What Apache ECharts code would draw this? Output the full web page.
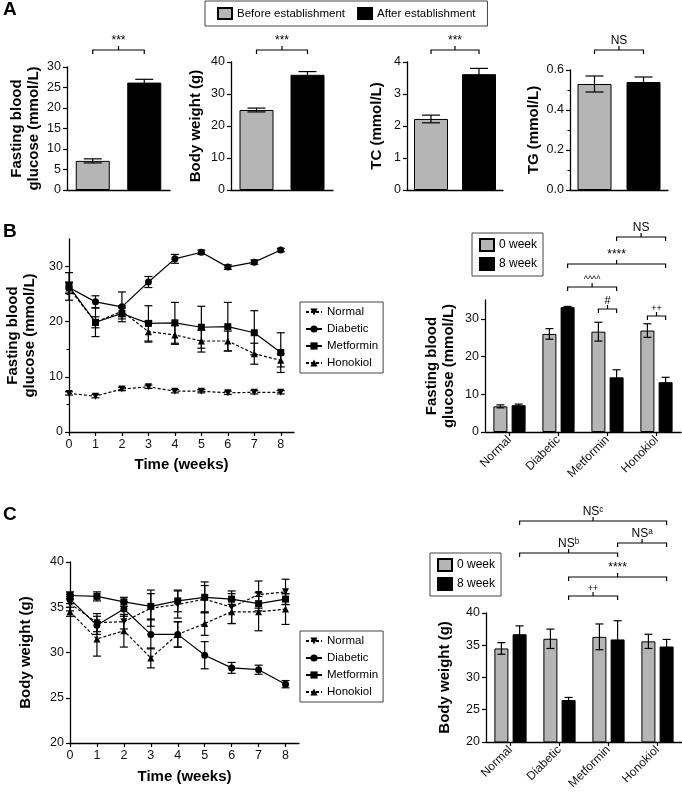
<!DOCTYPE html>
<html><head><meta charset="utf-8">
<script src="https://cdn.jsdelivr.net/npm/echarts@6/dist/echarts.min.js"></script>
<style>html,body{margin:0;padding:0;background:#fff}#c{width:682px;height:792px}</style>
</head><body><div id="c"></div>
<script>
// ================= DATA =================
// Panel A
const groupsA = ['Before establishment', 'After establishment'];
const fbgA = [7.1, 26.2];   const fbgAErr = [0.5, 0.8];
const bwA  = [25.0, 36.0];  const bwAErr  = [0.6, 1.0];
const tcA  = [2.22, 3.62];  const tcAErr  = [0.12, 0.18];
const tgA  = [0.53, 0.54];  const tgAErr  = [0.04, 0.025];
const sigA = ['***', '***', '***', 'NS'];
const yTicksA1 = [0, 5, 10, 15, 20, 25, 30];
const yTicksA2 = [0, 10, 20, 30, 40];
const yTicksA3 = [0, 1, 2, 3, 4];
const yTicksA4 = [0.0, 0.2, 0.4, 0.6];
const yMinorA4 = [0.1, 0.3, 0.5];

// Panel B / C time courses
const weeks = [0, 1, 2, 3, 4, 5, 6, 7, 8];
const lineGroups = ['Normal', 'Diabetic', 'Metformin', 'Honokiol'];

const fbgNormal    = [7.0, 6.5, 7.8, 8.2, 7.4, 7.4, 7.1, 7.2, 7.2];
const fbgNormalErr = [0.3, 0.3, 0.3, 0.3, 0.3, 0.3, 0.3, 0.3, 0.3];
const fbgDiab      = [26.2, 23.6, 22.7, 27.2, 31.4, 32.6, 29.9, 30.8, 33.0];
const fbgDiabErr   = [1.0, 1.1, 2.7, 1.0, 0.8, 0.4, 0.4, 0.4, 0.3];
const fbgMet       = [26.4, 19.9, 21.5, 19.7, 19.8, 19.0, 19.1, 18.0, 14.4];
const fbgMetErr    = [2.5, 2.6, 1.0, 3.2, 3.7, 3.8, 4.4, 4.0, 3.6];
const fbgHon       = [26.1, 19.9, 21.9, 18.2, 17.6, 16.5, 16.5, 14.2, 13.0];
const fbgHonErr    = [1.0, 1.0, 1.0, 1.9, 1.7, 2.0, 1.8, 1.9, 1.2];

const bwNormal    = [35.4, 33.3, 33.4, 34.9, 35.3, 35.9, 35.0, 36.4, 36.7];
const bwNormalErr = [0.8, 1.0, 0.8, 2.0, 1.5, 1.5, 1.8, 1.5, 1.4];
const bwDiab      = [35.9, 33.0, 34.8, 32.0, 32.0, 29.7, 28.3, 28.1, 26.5];
const bwDiabErr   = [0.5, 1.0, 0.8, 1.6, 1.4, 1.5, 0.6, 0.5, 0.4];
const bwMet       = [36.3, 36.2, 35.6, 35.1, 35.7, 36.1, 35.9, 35.4, 35.9];
const bwMetErr    = [0.4, 0.5, 0.5, 1.4, 1.2, 1.7, 0.6, 0.8, 0.6];
const bwHon       = [34.5, 31.5, 32.4, 29.4, 32.0, 33.2, 34.5, 34.5, 34.8];
const bwHonErr    = [0.5, 1.9, 1.8, 1.1, 1.4, 1.3, 1.3, 2.1, 1.7];

const yTicksBLine = [0, 10, 20, 30];
const yMinorBLine = [5, 15, 25];
const yTicksC = [20, 25, 30, 35, 40];

// Panel B / C bar summaries
const timePoints = ['0 week', '8 week'];
const fbgWeek0    = [6.8, 26.0, 26.6, 26.9];
const fbgWeek0Err = [0.4, 1.4, 2.5, 1.8];
const fbgWeek8    = [7.1, 33.1, 14.5, 13.2];
const fbgWeek8Err = [0.3, 0.2, 2.0, 1.3];
const bwWeek0     = [34.5, 36.0, 36.3, 35.6];
const bwWeek0Err  = [0.9, 1.5, 2.0, 1.1];
const bwWeek8     = [36.7, 26.5, 35.9, 34.8];
const bwWeek8Err  = [1.3, 0.4, 2.9, 1.1];
const yTicksBBar = [0, 10, 20, 30];

// significance annotations: [fromGroup, fromBar, toGroup, toBar, label]
const sigBBar = [[2,1,3,1,'NS'], [1,1,3,1,'****'], [1,1,2,1,'^^^^'], [2,0,2,1,'#'], [3,0,3,1,'++']];
const sigCBar = [[0,1,3,1,'NSᶜ'], [2,1,3,1,'NSᵃ'], [0,1,2,1,'NSᵇ'], [1,1,3,1,'****'], [1,1,2,1,'++']];

// ================= STYLE / LAYOUT =================
const FONT = 'Liberation Sans, Arial, Helvetica, sans-serif';
const GRAY = '#b5b5b5';
const AX = {lineStyle: {color: '#000', width: 1.3}};
const chart = echarts.init(document.getElementById('c'), null, {renderer: 'canvas'});

function errRender(offsetPx, capHalf) {
  return function (params, api) {
    const x = api.value(0), y = api.value(1), e = api.value(2);
    const top = api.coord([x, y + e]), bot = api.coord([x, y - e]);
    const cx = top[0] + offsetPx;
    const st = {stroke: '#000', lineWidth: 1.2};
    return {type: 'group', children: [
      {type: 'line', shape: {x1: cx, y1: top[1], x2: cx, y2: bot[1]}, style: st},
      {type: 'line', shape: {x1: cx - capHalf, y1: top[1], x2: cx + capHalf, y2: top[1]}, style: st},
      {type: 'line', shape: {x1: cx - capHalf, y1: bot[1], x2: cx + capHalf, y2: bot[1]}, style: st}
    ]};
  };
}

function yAxisDef(grid, ticks, max, name, gap, fmt) {
  return {
    type: 'value', gridIndex: grid, min: ticks[0], max: max, position: 'left',
    axisLine: Object.assign({show: true}, AX),
    axisTick: {show: true, length: 4, lineStyle: {color: '#000', width: 1.2}, customValues: ticks},
    axisLabel: {customValues: ticks, fontSize: 12.5, color: '#111', fontFamily: FONT, margin: 6,
      formatter: fmt || (v => String(v))},
    splitLine: {show: false},
    name: name, nameLocation: 'middle', nameGap: gap,
    nameTextStyle: {fontSize: 15, fontWeight: 'bold', color: '#000', fontFamily: FONT, lineHeight: 17}
  };
}
function minorAxis(grid, ticks, min, max) {
  return {type: 'value', gridIndex: grid, min: min, max: max, position: 'left', offset: 0,
    axisLine: {show: false}, axisLabel: {show: false}, splitLine: {show: false},
    axisTick: {show: true, length: 2.5, lineStyle: {color: '#000', width: 1.1}, customValues: ticks}};
}
function catAxisA(grid) {
  return {type: 'category', gridIndex: grid, data: groupsA,
    axisLine: Object.assign({show: true, onZero: false}, AX), axisTick: {show: false}, axisLabel: {show: false}};
}
function weekAxis(grid, gap) {
  return {type: 'value', gridIndex: grid, min: 0, max: 8.5,
    axisLine: Object.assign({show: true, onZero: false}, AX),
    axisTick: {show: true, length: 4, lineStyle: {color: '#000', width: 1.2}, customValues: weeks},
    axisLabel: {customValues: weeks, fontSize: 12.5, color: '#111', fontFamily: FONT, margin: 6},
    splitLine: {show: false},
    name: 'Time (weeks)', nameLocation: 'middle', nameGap: gap,
    nameTextStyle: {fontSize: 15, fontWeight: 'bold', color: '#000', fontFamily: FONT}};
}
function groupAxis(grid) {
  return {type: 'category', gridIndex: grid, data: lineGroups,
    axisLine: Object.assign({show: true, onZero: false}, AX),
    axisTick: {show: true, alignWithLabel: true, length: 4, lineStyle: {color: '#000', width: 1.2}},
    axisLabel: {rotate: 45, interval: 0, fontSize: 12, color: '#111', fontFamily: FONT, margin: 6}};
}

const grids = [
  {left: 67, top: 67, width: 103, height: 123},   // A1
  {left: 231, top: 62, width: 102, height: 128},  // A2
  {left: 407, top: 62, width: 96, height: 128},   // A3
  {left: 570, top: 70, width: 98, height: 120},   // A4
  {left: 69, top: 239, width: 225, height: 193},  // B line
  {left: 485, top: 300, width: 196, height: 132}, // B bar
  {left: 70, top: 562, width: 229, height: 181},  // C line
  {left: 486, top: 613, width: 196, height: 130}  // C bar
];

const xAxes = [catAxisA(0), catAxisA(1), catAxisA(2), catAxisA(3),
  weekAxis(4, 25), groupAxis(5), weekAxis(6, 26), groupAxis(7)];
const yAxes = [
  yAxisDef(0, yTicksA1, 30, 'Fasting blood\nglucose (mmol/L)', 25),
  yAxisDef(1, yTicksA2, 40, 'Body weight (g)', 27),
  yAxisDef(2, yTicksA3, 4, 'TC (mmol/L)', 22),
  yAxisDef(3, yTicksA4, 0.6, 'TG (mmol/L)', 27, v => v.toFixed(1)),
  yAxisDef(4, yTicksBLine, 35, 'Fasting blood\nglucose (mmol/L)', 31),
  yAxisDef(5, yTicksBBar, 35, 'Fasting blood\nglucose (mmol/L)', 28),
  yAxisDef(6, yTicksC, 40, 'Body weight (g)', 36),
  yAxisDef(7, yTicksC, 40, 'Body weight (g)', 33),
  minorAxis(3, yMinorA4, 0, 0.6),
  minorAxis(4, yMinorBLine, 0, 35)
];

const series = [];
// Panel A bars
[[fbgA, fbgAErr], [bwA, bwAErr], [tcA, tcAErr], [tgA, tgAErr]].forEach(([vals, errs], k) => {
  series.push({type: 'bar', name: groupsA[0], xAxisIndex: k, yAxisIndex: k, barWidth: 34, barGap: '-100%',
    data: [vals[0], '-'], itemStyle: {color: GRAY, borderColor: '#000', borderWidth: 1}, silent: true});
  series.push({type: 'bar', name: groupsA[1], xAxisIndex: k, yAxisIndex: k, barWidth: 34, barGap: '-100%',
    data: ['-', vals[1]], itemStyle: {color: '#000', borderColor: '#000', borderWidth: 1}, silent: true});
  series.push({type: 'custom', name: 'errA' + k, xAxisIndex: k, yAxisIndex: k, z: 5, silent: true,
    renderItem: errRender(0, 9), encode: {x: 0, y: 1},
    data: vals.map((v, i) => [i, v, errs[i]])});
});

// line panels
const lineStyles = {
  Normal:    {symbol: 'triangle', rotate: 180, size: 7, dash: [3, 2]},
  Diabetic:  {symbol: 'circle', rotate: 0, size: 7, dash: 'solid'},
  Metformin: {symbol: 'rect', rotate: 0, size: 7, dash: 'solid'},
  Honokiol:  {symbol: 'triangle', rotate: 0, size: 7, dash: [3, 2]}
};
function addLines(axisIdx, sets) {
  sets.forEach(([vals, errs], g) => {
    const nm = lineGroups[g], st = lineStyles[nm];
    series.push({type: 'custom', name: 'err' + axisIdx + nm, xAxisIndex: axisIdx, yAxisIndex: axisIdx, z: 2, silent: true,
      renderItem: errRender(0, 4), encode: {x: 0, y: 1},
      data: weeks.map((w, i) => [w, vals[i], errs[i]])});
    series.push({type: 'line', name: nm, xAxisIndex: axisIdx, yAxisIndex: axisIdx, z: 3, silent: true,
      data: weeks.map((w, i) => [w, vals[i]]),
      symbol: st.symbol, symbolRotate: st.rotate, symbolSize: st.size, showAllSymbol: true,
      lineStyle: {color: '#000', width: 1.2, type: st.dash}, itemStyle: {color: '#000'}});
  });
}
addLines(4, [[fbgNormal, fbgNormalErr], [fbgDiab, fbgDiabErr], [fbgMet, fbgMetErr], [fbgHon, fbgHonErr]]);
addLines(6, [[bwNormal, bwNormalErr], [bwDiab, bwDiabErr], [bwMet, bwMetErr], [bwHon, bwHonErr]]);

// bar summaries
const BW = 14, GAPPCT = 30, OFF = (BW + BW * GAPPCT / 100) / 2;
function addBars(axisIdx, v0, e0, v8, e8) {
  series.push({type: 'bar', name: timePoints[0], xAxisIndex: axisIdx, yAxisIndex: axisIdx, barWidth: BW, barGap: GAPPCT + '%',
    data: v0, itemStyle: {color: GRAY, borderColor: '#000', borderWidth: 1}, silent: true});
  series.push({type: 'bar', name: timePoints[1], xAxisIndex: axisIdx, yAxisIndex: axisIdx, barWidth: BW, barGap: GAPPCT + '%',
    data: v8, itemStyle: {color: '#000', borderColor: '#000', borderWidth: 1}, silent: true});
  series.push({type: 'custom', name: 'e0' + axisIdx, xAxisIndex: axisIdx, yAxisIndex: axisIdx, z: 5, silent: true,
    renderItem: errRender(-OFF, 4), encode: {x: 0, y: 1}, data: v0.map((v, i) => [i, v, e0[i]])});
  series.push({type: 'custom', name: 'e8' + axisIdx, xAxisIndex: axisIdx, yAxisIndex: axisIdx, z: 5, silent: true,
    renderItem: errRender(OFF, 4), encode: {x: 0, y: 1}, data: v8.map((v, i) => [i, v, e8[i]])});
}
addBars(5, fbgWeek0, fbgWeek0Err, fbgWeek8, fbgWeek8Err);
addBars(7, bwWeek0, bwWeek0Err, bwWeek8, bwWeek8Err);

const legendText = {fontSize: 11.5, color: '#000', fontFamily: FONT};
const legends = [
  {data: groupsA, left: 205, top: 1, orient: 'horizontal', padding: [6, 12, 6, 12], itemGap: 12,
    itemWidth: 14, itemHeight: 11, icon: 'rect', borderColor: '#444', borderWidth: 1, textStyle: legendText, selectedMode: false},
  {data: lineGroups, left: 300, top: 302, orient: 'vertical', padding: [4, 5, 4, 5], itemGap: 5,
    itemWidth: 16, itemHeight: 9, borderColor: '#444', borderWidth: 1, textStyle: legendText, selectedMode: false},
  {data: lineGroups, left: 300, top: 631, orient: 'vertical', padding: [4, 5, 4, 5], itemGap: 5,
    itemWidth: 16, itemHeight: 9, borderColor: '#444', borderWidth: 1, textStyle: legendText, selectedMode: false},
  {data: timePoints, left: 472, top: 233, orient: 'vertical', padding: [5, 6, 5, 7], itemGap: 5,
    itemWidth: 14, itemHeight: 12, icon: 'rect', borderColor: '#444', borderWidth: 1, textStyle: {fontSize: 12, color: '#000', fontFamily: FONT}, selectedMode: false},
  {data: timePoints, left: 430, top: 553, orient: 'vertical', padding: [5, 6, 5, 7], itemGap: 5,
    itemWidth: 14, itemHeight: 12, icon: 'rect', borderColor: '#444', borderWidth: 1, textStyle: {fontSize: 12, color: '#000', fontFamily: FONT}, selectedMode: false}
];

chart.setOption({
  animation: false,
  backgroundColor: '#fff',
  textStyle: {fontFamily: FONT},
  grid: grids, xAxis: xAxes, yAxis: yAxes, legend: legends, series: series
});

// ================= ANNOTATIONS =================
function bracket(x1, x2, y, label, size) {
  const xm = (x1 + x2) / 2;
  const st = {stroke: '#000', lineWidth: 1.2, fill: null};
  return [
    {type: 'polyline', silent: true, shape: {points: [[x1, y + 4], [x1, y], [x2, y], [x2, y + 4]]}, style: st},
    {type: 'line', silent: true, shape: {x1: xm, y1: y, x2: xm, y2: y - 4}, style: st},
    {type: 'text', silent: true, x: xm, y: y - 3, style: {text: label, fontSize: size, fontFamily: FONT, fill: '#000',
      align: 'center', verticalAlign: 'bottom', textAlign: 'center', textVerticalAlign: 'bottom'}}
  ];
}
const gfx = [];
['A', 'B', 'C'].forEach((t, i) => gfx.push({type: 'text', silent: true, x: 3, y: [0, 222, 505][i],
  style: {text: t, fontSize: 19, fontWeight: 'bold', fontFamily: FONT, fill: '#000', align: 'left', verticalAlign: 'top', textAlign: 'left', textVerticalAlign: 'top'}}));
sigA.forEach((lab, k) => {
  const x1 = chart.convertToPixel({xAxisIndex: k}, 0), x2 = chart.convertToPixel({xAxisIndex: k}, 1);
  gfx.push(...bracket(x1, x2, 50, lab, 12));
});
const yBB = [237, 264, 287, 309, 316], szBB = [12, 12, 9, 11, 9];
sigBBar.forEach(([g1, b1, g2, b2, lab], i) => {
  const x1 = chart.convertToPixel({xAxisIndex: 5}, g1) + (b1 ? OFF : -OFF);
  const x2 = chart.convertToPixel({xAxisIndex: 5}, g2) + (b2 ? OFF : -OFF);
  gfx.push(...bracket(x1, x2, yBB[i], lab, szBB[i]));
});
const yCB = [521, 543, 553, 577, 596], szCB = [12, 12, 12, 12, 9];
sigCBar.forEach(([g1, b1, g2, b2, lab], i) => {
  const x1 = chart.convertToPixel({xAxisIndex: 7}, g1) + (b1 ? OFF : -OFF);
  const x2 = chart.convertToPixel({xAxisIndex: 7}, g2) + (b2 ? OFF : -OFF);
  gfx.push(...bracket(x1, x2, yCB[i], lab, szCB[i]));
});
chart.setOption({graphic: gfx});
</script></body></html>
